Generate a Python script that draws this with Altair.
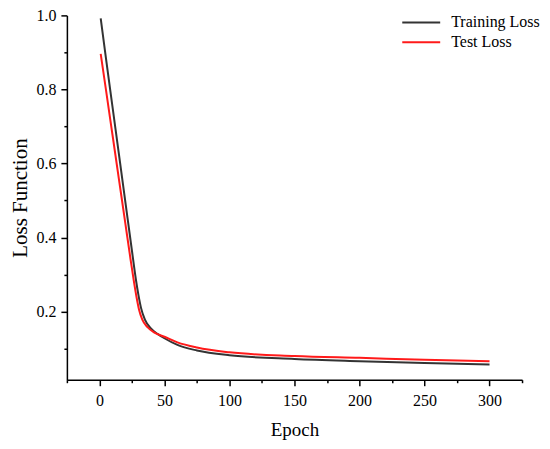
import altair as alt
import pandas as pd

# ---- data ----
train_epoch = [1, 5, 10, 15, 20, 25, 28, 30, 32, 35, 40, 45, 50, 60, 75, 100, 150, 200, 250, 300]
train_loss = [0.992, 0.885, 0.755, 0.625, 0.495, 0.365, 0.288, 0.245, 0.21, 0.178, 0.153, 0.139,
              0.128, 0.110, 0.095, 0.082, 0.072, 0.066, 0.061, 0.057]

test_epoch = [1, 5, 10, 15, 20, 24, 26.5, 28.5, 30.5, 33, 37, 42, 50, 60, 75, 100, 150, 200, 250, 300]
test_loss = [0.896, 0.8, 0.679, 0.558, 0.437, 0.34, 0.282, 0.24, 0.205, 0.178, 0.158, 0.144,
             0.132, 0.117, 0.103, 0.09, 0.08, 0.075, 0.07, 0.066]

series_names = ["Training Loss", "Test Loss"]
series_colors = ["#333333", "#ff1a1a"]

x_major = [0, 50, 100, 150, 200, 250, 300]
x_minor = [-25, 25, 75, 125, 175, 225, 275, 325]
y_major = [0.2, 0.4, 0.6, 0.8, 1.0]
y_minor = [0.1, 0.3, 0.5, 0.7, 0.9]

df = pd.concat([
    pd.DataFrame({"Epoch": train_epoch, "Loss": train_loss, "Series": series_names[0]}),
    pd.DataFrame({"Epoch": test_epoch, "Loss": test_loss, "Series": series_names[1]}),
], ignore_index=True)

FONT = "Liberation Serif"
x_scale = alt.Scale(domain=[-25, 325], nice=False, zero=False)
y_scale = alt.Scale(domain=[0.016, 1.0], nice=False, zero=False)

lines = alt.Chart(df).mark_line(strokeWidth=2, interpolate="monotone").encode(
    x=alt.X("Epoch:Q", scale=x_scale,
            axis=alt.Axis(values=x_major, title="Epoch", orient="bottom", tickSize=6,
                          labelPadding=7, titlePadding=12, titleFontSize=19)),
    y=alt.Y("Loss:Q", scale=y_scale,
            axis=alt.Axis(values=y_major, format=".1f", title="Loss Function", orient="left",
                          tickSize=6, labelPadding=5, titlePadding=5, titleFontSize=21)),
    color=alt.Color("Series:N", sort=series_names,
                    scale=alt.Scale(domain=series_names, range=series_colors),
                    legend=alt.Legend(title=None, orient="none", legendX=344.5, legendY=-3.5,
                                      symbolType="M-2,0H2", symbolSize=361, symbolStrokeWidth=2,
                                      symbolFillColor="transparent",
                                      labelFont=FONT, labelFontSize=16, labelColor="black",
                                      labelOffset=19.5, padding=0, rowPadding=1)),
)

minor = alt.Chart(df).mark_point(opacity=0).encode(
    x=alt.X("Epoch:Q", scale=x_scale,
            axis=alt.Axis(values=x_minor, labels=False, tickSize=3, domain=False,
                          title=None, orient="bottom", grid=False)),
    y=alt.Y("Loss:Q", scale=y_scale,
            axis=alt.Axis(values=y_minor, labels=False, tickSize=3, domain=False,
                          title=None, orient="left", grid=False)),
)

chart = alt.layer(lines, minor).resolve_axis(x="independent", y="independent").properties(
    width=456, height=365,
    autosize=alt.AutoSizeParams(type="none"),
    padding={"left": 59, "top": 7, "right": 20, "bottom": 60},
).configure_view(stroke=None).configure_axis(
    grid=False,
    domainColor="black", domainWidth=1.5,
    tickColor="black", tickWidth=1.5,
    labelFont=FONT, labelFontSize=16, labelColor="black",
    titleFont=FONT, titleFontWeight="normal", titleColor="black",
)

chart.save("out.html", embed_options={"renderer": "svg", "actions": False})
